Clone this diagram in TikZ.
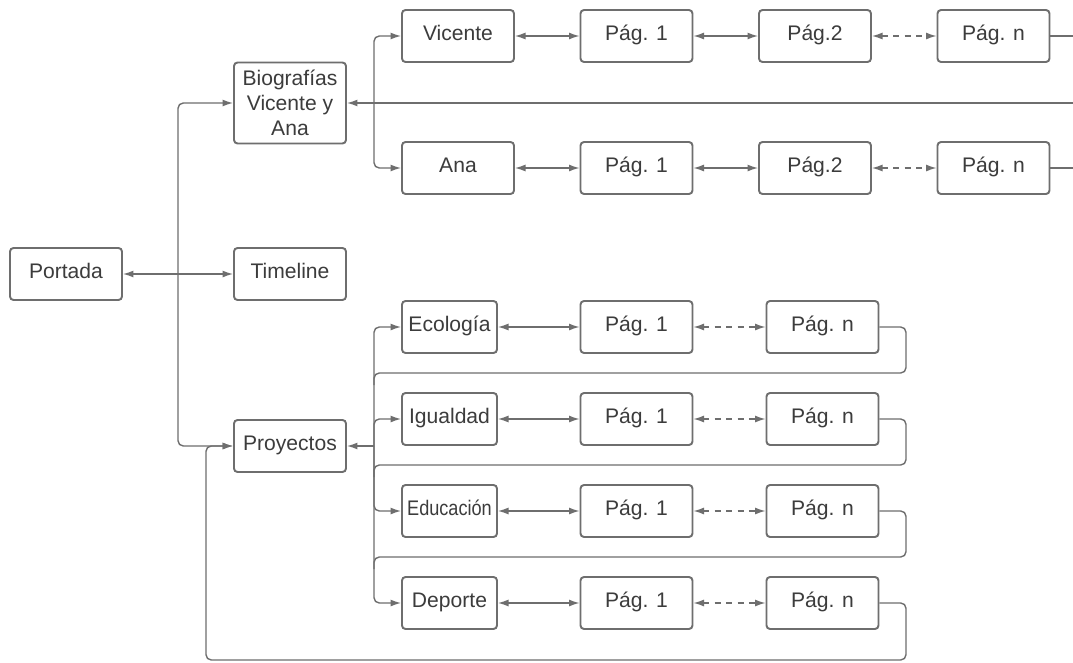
\documentclass[tikz,border=0pt]{standalone}
\usepackage{graphicx}
\usepackage{fontspec}
\setmainfont{Liberation Sans}
\usetikzlibrary{calc,backgrounds,arrows.meta}
\definecolor{linea}{HTML}{6E6E6E}
\definecolor{texto}{HTML}{3C3C3C}

\begin{document}
\begin{tikzpicture}[%
    x=0.02cm, y=-0.02cm,%
    show background rectangle,%
    tight background,%
    background rectangle/.style={fill=white},%
    base/.style={draw=linea, line width=1.1pt, rounded corners=2pt, fill=white,%
        text=texto, align=center, inner sep=1pt,%
        minimum width=2.24cm, minimum height=1.04cm,%
        font=\fontsize{12}{14.2}\selectfont},%
    caja/.style={base, text height=0.74em, text depth=0.2em},%
    cajita/.style={caja, minimum width=1.9cm},%
    enlace/.style={draw=linea, line width=0.8pt, rounded corners=3pt},%
    ida/.style={enlace, -{Latex[length=6pt,width=4pt]}},%
    doble/.style={enlace, {Latex[length=6pt,width=4pt]}-{Latex[length=6pt,width=4pt]}},%
    puntos/.style={doble, dash pattern=on 3.5pt off 3pt}%
    ]
    % Mapa del sitio

    %
    % Definiciones
    %
    \pgfmathsetmacro{\xport}{66};%
    \pgfmathsetmacro{\xtronco}{178};%
    \pgfmathsetmacro{\xvuelta}{206};%
    \pgfmathsetmacro{\xmid}{290};%
    \pgfmathsetmacro{\xsub}{374};%
    \pgfmathsetmacro{\xbio}{458};%
    \pgfmathsetmacro{\xproy}{449.5};%
    \pgfmathsetmacro{\xpa}{636.5};%
    \pgfmathsetmacro{\xpb}{815};%
    \pgfmathsetmacro{\xpn}{993.5};%
    \pgfmathsetmacro{\xpm}{822.5};%
    \pgfmathsetmacro{\xlazo}{906};%
    \pgfmathsetmacro{\xfin}{1073};%
    \pgfmathsetmacro{\yvic}{36};%
    \pgfmathsetmacro{\ybio}{103};%
    \pgfmathsetmacro{\yana}{168};%
    \pgfmathsetmacro{\yport}{274};%
    \pgfmathsetmacro{\yeco}{327};%
    \pgfmathsetmacro{\yigu}{419};%
    \pgfmathsetmacro{\yproy}{446};%
    \pgfmathsetmacro{\yedu}{511};%
    \pgfmathsetmacro{\ydep}{603};%

    \useasboundingbox (0,0) rectangle (1073,663);

    % Nivel principal
    \node[caja] (port) at (\xport,\yport) {Portada};
    \node[base, minimum height=1.62cm] (bio) at (\xmid,\ybio) {Biografías\\Vicente y\\Ana};
    \node[caja] (time) at (\xmid,\yport) {Timeline};
    \node[caja] (proy) at (\xmid,\yproy) {Proyectos};

    % Biografías
    \node[caja] (vic) at (\xbio,\yvic) {Vicente};
    \node[caja] (vica) at (\xpa,\yvic) {Pág. 1};
    \node[caja] (vicb) at (\xpb,\yvic) {Pág.2};
    \node[caja] (vicn) at (\xpn,\yvic) {Pág. n};
    \node[caja] (ana) at (\xbio,\yana) {Ana};
    \node[caja] (anaa) at (\xpa,\yana) {Pág. 1};
    \node[caja] (anab) at (\xpb,\yana) {Pág.2};
    \node[caja] (anan) at (\xpn,\yana) {Pág. n};

    % Proyectos
    \node[cajita] (eco) at (\xproy,\yeco) {Ecología};
    \node[caja] (ecoa) at (\xpa,\yeco) {Pág. 1};
    \node[caja] (econ) at (\xpm,\yeco) {Pág. n};
    \node[cajita] (igu) at (\xproy,\yigu) {Igualdad};
    \node[caja] (igua) at (\xpa,\yigu) {Pág. 1};
    \node[caja] (igun) at (\xpm,\yigu) {Pág. n};
    \node[cajita] (edu) at (\xproy,\yedu) {\scalebox{0.86}[1]{Educación}};
    \node[caja] (edua) at (\xpa,\yedu) {Pág. 1};
    \node[caja] (edun) at (\xpm,\yedu) {Pág. n};
    \node[cajita] (dep) at (\xproy,\ydep) {Deporte};
    \node[caja] (depa) at (\xpa,\ydep) {Pág. 1};
    \node[caja] (depn) at (\xpm,\ydep) {Pág. n};

    % Cruces
    \coordinate (cport) at (\xtronco,\yport);
    \coordinate (cbio) at (\xsub,\ybio);
    \coordinate (cproy) at (\xsub,\yproy);
    \coordinate (fbio) at (\xfin,\ybio);
    \coordinate (fvic) at (\xfin,\yvic);
    \coordinate (fana) at (\xfin,\yana);
    \coordinate (leco) at (\xlazo,373);
    \coordinate (ligu) at (\xlazo,465);
    \coordinate (ledu) at (\xlazo,557);
    \coordinate (ldep) at (\xlazo,660);
    \coordinate (lvuelta) at (\xvuelta,\yproy);

    % Tronco
    \draw[ida] (cport) -- (port.east);
    \draw[ida] (cport) -- (time.west);
    \draw[ida] (cport) |- (bio.west);
    \draw[ida] (cport) |- (proy.west);

    % Rama biografías
    \draw[ida] (cbio) -- (bio.east);
    \draw[ida] (cbio) |- (vic.west);
    \draw[ida] (cbio) |- (ana.west);
    \draw[enlace] (cbio) -- (fbio);

    \draw[doble] (vic.east) -- (vica.west);
    \draw[doble] (vica.east) -- (vicb.west);
    \draw[puntos] (vicb.east) -- (vicn.west);
    \draw[enlace] (vicn.east) -- (fvic);
    \draw[doble] (ana.east) -- (anaa.west);
    \draw[doble] (anaa.east) -- (anab.west);
    \draw[puntos] (anab.east) -- (anan.west);
    \draw[enlace] (anan.east) -- (fana);

    % Rama proyectos
    \draw[ida] (cproy) -- (proy.east);
    \draw[ida] (cproy) |- (eco.west);
    \draw[ida] (cproy) |- (igu.west);
    \draw[ida] (cproy) |- (edu.west);
    \draw[ida] (cproy) |- (dep.west);

    \draw[doble] (eco.east) -- (ecoa.west);
    \draw[puntos] (ecoa.east) -- (econ.west);
    \draw[doble] (igu.east) -- (igua.west);
    \draw[puntos] (igua.east) -- (igun.west);
    \draw[doble] (edu.east) -- (edua.west);
    \draw[puntos] (edua.east) -- (edun.west);
    \draw[doble] (dep.east) -- (depa.west);
    \draw[puntos] (depa.east) -- (depn.west);

    % Vueltas
    \draw[enlace] (econ.east) -| (leco) -- (leco -| cproy) -- ++(0,12);
    \draw[enlace] (igun.east) -| (ligu) -- (ligu -| cproy) -- ++(0,12);
    \draw[enlace] (edun.east) -| (ledu) -- (ledu -| cproy) -- ++(0,12);
    \draw[ida] (depn.east) -| (ldep) -| (lvuelta) -- (proy.west);

\end{tikzpicture}
\end{document}
